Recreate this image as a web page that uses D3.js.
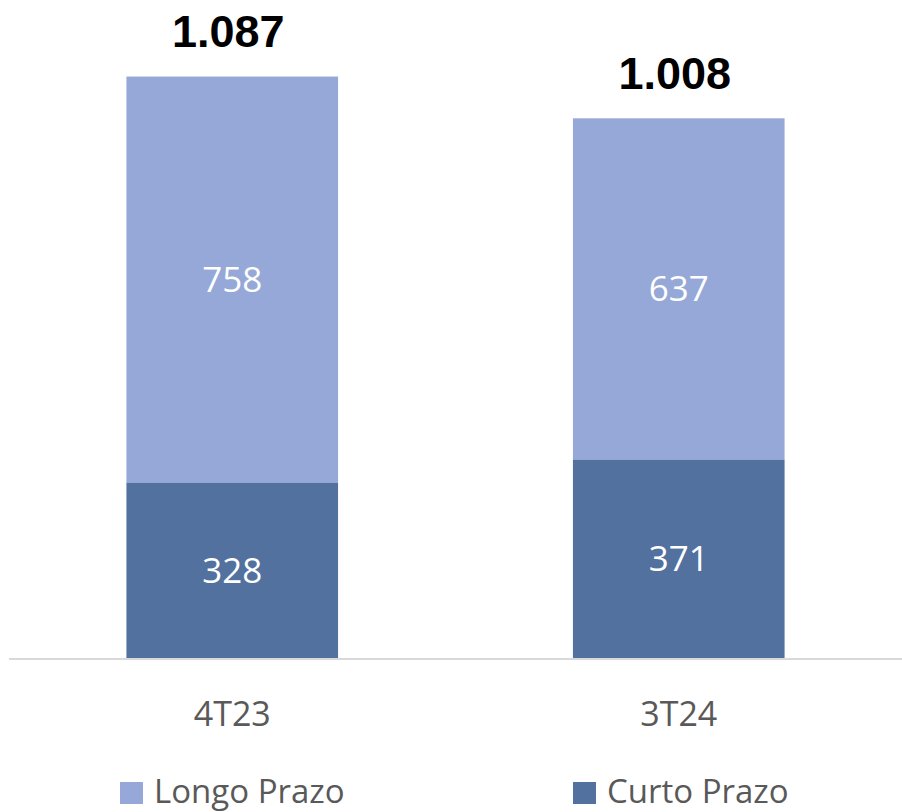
<!DOCTYPE html>
<html>
<head>
<meta charset="utf-8">
<script src="https://cdn.jsdelivr.net/npm/d3@7"></script>
<style>
  body { margin: 0; background: #fff; }
  svg { display: block; }
</style>
</head>
<body>
<div id="chart"></div>
<script>
// data
const periods = ['4T23', '3T24']
const longoPrazo = [758, 637]
const curtoPrazo = [328, 371]
const totals = [1087, 1008]
const seriesNames = ['Curto Prazo', 'Longo Prazo']

// chart size constants
const WIDTH = 902
const HEIGHT = 812
const BASE_Y = 658
const AXIS_LEFT = 9
const AXIS_RIGHT = 902

const COLOR_LONGO = '#95A8D8'
const COLOR_CURTO = '#52719F'
const TEXT_GREY = '#595959'
const FONT = '"Open Sans", "Noto Sans", sans-serif'

const ptBR = d3.formatLocale({ decimal: ',', thousands: '.', grouping: [3], currency: ['R$', ''] })
const fmtTotal = ptBR.format(',d')

const rows = periods.map((p, i) => ({ period: p, 'Curto Prazo': curtoPrazo[i], 'Longo Prazo': longoPrazo[i], total: totals[i] }))
const stacked = d3.stack().keys(seriesNames)(rows)
const colorOf = d3.scaleOrdinal().domain(seriesNames).range([COLOR_CURTO, COLOR_LONGO])

const svg = d3.select('#chart').append('svg')
  .attr('width', WIDTH)
  .attr('height', HEIGHT)

const x = d3.scaleBand()
  .domain(periods)
  .range([AXIS_LEFT, AXIS_RIGHT])
  .paddingInner(0.526)
  .paddingOuter(0.263)

const y = d3.scaleLinear()
  .domain([0, 1100])
  .range([BASE_Y, BASE_Y - 1100 * 0.5354])

// bars
svg.append('g')
  .selectAll('g')
  .data(stacked)
  .join('g')
  .attr('fill', d => colorOf(d.key))
  .selectAll('rect')
  .data(d => d.map(e => ({ key: d.key, ...e })))
  .join('rect')
    .attr('x', d => x(d.data.period))
    .attr('y', d => y(d[1]))
    .attr('width', x.bandwidth())
    .attr('height', d => y(d[0]) - y(d[1]))

// labels inside the segments
svg.append('g')
  .selectAll('g')
  .data(stacked)
  .join('g')
  .selectAll('text')
  .data(d => d.map(e => ({ key: d.key, ...e })))
  .join('text')
    .attr('x', d => x(d.data.period) + x.bandwidth() / 2)
    .attr('y', d => (y(d[0]) + y(d[1])) / 2)
    .attr('dy', '0.36em')
    .attr('text-anchor', 'middle')
    .attr('fill', '#fff')
    .style('font-family', FONT)
    .style('font-size', '35px')
    .text(d => d.data[d.key])

// totals above the bars
svg.append('g')
  .selectAll('text')
  .data(rows)
  .join('text')
    .attr('x', d => x(d.period) + x.bandwidth() / 2 - 4)
    .attr('y', d => y(d.total) - 29)
    .attr('text-anchor', 'middle')
    .attr('fill', '#000')
    .attr('font-weight', 700)
    .style('font-family', '"Liberation Sans", Arial, sans-serif')
    .style('font-size', '45px')
    .text(d => fmtTotal(d.total))

// category axis
const xAxis = g => g
  .attr('transform', `translate(0,${BASE_Y + 1})`)
  .call(d3.axisBottom(x).tickSize(0).tickPadding(43))
  .call(g => g.select('.domain').attr('stroke', '#D9D9D9').attr('stroke-width', 2).attr('d', `M${AXIS_LEFT},0H${AXIS_RIGHT}`))
  .call(g => g.selectAll('text')
    .attr('fill', TEXT_GREY)
    .style('font-family', FONT)
    .style('font-size', '34px'))

svg.append('g').call(xAxis)

// legend
const legendItems = [
  { name: 'Longo Prazo', x: 120 },
  { name: 'Curto Prazo', x: 573 }
]
const legend = svg.append('g')
  .selectAll('g')
  .data(legendItems)
  .join('g')
  .attr('transform', d => `translate(${d.x},782)`)

legend.append('rect')
  .attr('width', 23)
  .attr('height', 22)
  .attr('fill', d => colorOf(d.name))

legend.append('text')
  .attr('x', 34)
  .attr('y', 21)
  .attr('fill', TEXT_GREY)
  .style('font-family', FONT)
  .style('font-size', '33px')
  .text(d => d.name)
</script>
</body>
</html>
